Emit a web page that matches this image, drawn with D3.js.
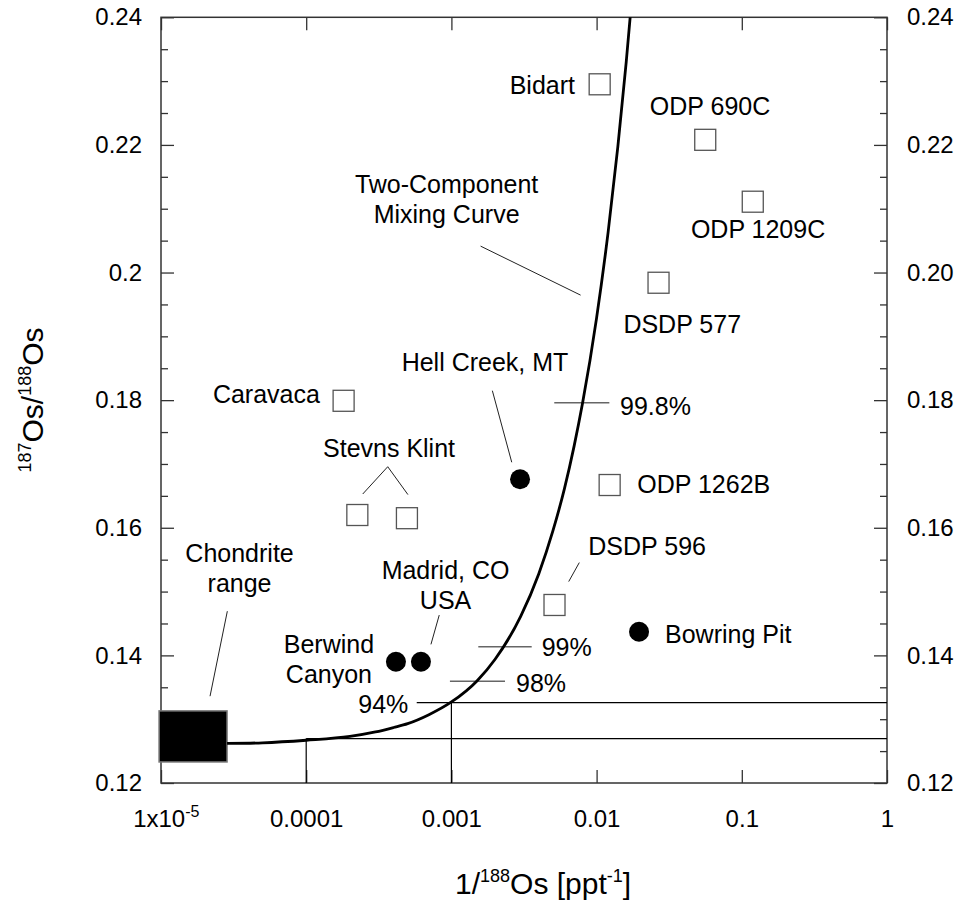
<!DOCTYPE html>
<html>
<head>
<meta charset="utf-8">
<script src="https://cdn.jsdelivr.net/npm/d3@7"></script>
<style>
  body { margin: 0; background: #fff; }
  svg { display: block; font-family: "Liberation Sans", Arial, sans-serif; }
</style>
</head>
<body>
<svg id="chart" width="961" height="903"></svg>
<script>
// ---- data ----
var xDomain = [1e-5, 1];
var yDomain = [0.12, 0.24];
var xTicks = [1e-5, 1e-4, 1e-3, 1e-2, 1e-1, 1];
var xTickLabels = ["1x10", "0.0001", "0.001", "0.01", "0.1", "1"];
var yTicks = [0.12, 0.14, 0.16, 0.18, 0.20, 0.22, 0.24];
var yTickLabelsLeft = ["0.12", "0.14", "0.16", "0.18", "0.2", "0.22", "0.24"];
var yTickLabelsRight = ["0.12", "0.14", "0.16", "0.18", "0.20", "0.22", "0.24"];
var yMinorTicks = [0.125, 0.13, 0.135, 0.145, 0.15, 0.155, 0.165, 0.17, 0.175,
  0.185, 0.19, 0.195, 0.205, 0.21, 0.215, 0.225, 0.23, 0.235];

// open squares (marine / distal sites)
var squareSites = ["Bidart", "ODP 690C", "ODP 1209C", "DSDP 577", "ODP 1262B",
  "Caravaca", "Stevns Klint a", "Stevns Klint b", "DSDP 596"];
var squareX = [0.0105, 0.056, 0.119, 0.0267, 0.0123, 1.81e-4, 2.25e-4, 4.94e-4, 0.00513];
var squareY = [0.2295, 0.2208, 0.2111, 0.1984, 0.1667, 0.1799, 0.1620, 0.1615, 0.1479];

// filled circles (continental sites)
var circleSites = ["Hell Creek, MT", "Bowring Pit", "Berwind Canyon", "Madrid, CO USA"];
var circleX = [0.00297, 0.0196, 4.15e-4, 6.17e-4];
var circleY = [0.1676, 0.1437, 0.1390, 0.1390];

// two-component mixing curve
var curveX = [2.85e-5, 5e-5, 1e-4, 2e-4, 3e-4, 4e-4, 5e-4, 7e-4, 1e-3, 1.5e-3, 2e-3,
  3e-3, 4e-3, 5e-3, 6e-3, 7e-3, 8e-3, 1e-2, 1.2e-2, 1.4e-2, 1.6e-2, 1.75e-2];
var curveY = [0.1262, 0.1263, 0.1267, 0.1273, 0.1280, 0.1287, 0.1293, 0.1307, 0.1327, 0.1360, 0.1394,
  0.1461, 0.1528, 0.1595, 0.1661, 0.1728, 0.1795, 0.1929, 0.2063, 0.2197, 0.2330, 0.2431];

// chondrite range box
var chondriteX = [9.7e-6, 2.85e-5];
var chondriteY = [0.1233, 0.1313];

// mixing percentage marks
var pctLabels = ["99.8%", "99%", "98%", "94%"];
var pctY = [0.1796, 0.14135, 0.13595, 0.13261];
var pctX1 = [0.00511, 0.001532, 0.000977, 5.77e-4];
var pctX2 = [0.01224, 0.003573, 0.00234, 1];

// reference lines (x1, y1, x2, y2)
var refLines = [
  [5.77e-4, 0.13261, 1, 0.13261],
  [1e-4, 0.12697, 1, 0.12697],
  [1e-4, 0.12, 1e-4, 0.12697],
  [1e-3, 0.12, 1e-3, 0.13261]
];

// ---- layout ----
var svg = d3.select("#chart");
var L = 161, R = 887, T = 17.3, B = 783;
var x = d3.scaleLog().domain(xDomain).range([L, R]);
var y = d3.scaleLinear().domain(yDomain).range([B, T]);
var frameColor = "#333";

svg.append("defs").append("clipPath").attr("id", "plotClip")
  .append("rect").attr("x", L).attr("y", T).attr("width", R - L).attr("height", B - T);

function styleAxis(g) {
  g.select(".domain").remove();
  g.selectAll(".tick line").attr("stroke", frameColor).attr("stroke-width", 1.3);
  g.selectAll(".tick text").attr("fill", "#000").attr("font-size", 24)
    .attr("font-family", "'Liberation Sans', Arial, sans-serif");
}

// bottom
var gx = svg.append("g").attr("transform", "translate(0," + B + ")")
  .call(d3.axisBottom(x).tickValues(xTicks).tickSizeInner(-13).tickSizeOuter(0).tickPadding(27)
    .tickFormat(function(d, i) { return xTickLabels[i]; }))
  .call(styleAxis);
gx.selectAll(".tick text").filter(function(d, i) { return i === 0; })
  .append("tspan").attr("font-size", 16).attr("dy", "-0.6em").text("-5");
gx.selectAll(".tick text").filter(function(d, i) { return i === 0; })
  .attr("dx", "0.2em");

// top
svg.append("g").attr("transform", "translate(0," + T + ")")
  .call(d3.axisTop(x).tickValues(xTicks).tickSizeInner(-13).tickSizeOuter(0).tickFormat(""))
  .call(styleAxis);

// left
svg.append("g").attr("transform", "translate(" + L + ",0)")
  .call(d3.axisLeft(y).tickValues(yTicks).tickSizeInner(-13).tickSizeOuter(0).tickPadding(19)
    .tickFormat(function(d, i) { return yTickLabelsLeft[i]; }))
  .call(styleAxis);
svg.append("g").attr("transform", "translate(" + L + ",0)")
  .call(d3.axisLeft(y).tickValues(yMinorTicks).tickSizeInner(-7).tickSizeOuter(0).tickFormat(""))
  .call(styleAxis);

// right
svg.append("g").attr("transform", "translate(" + R + ",0)")
  .call(d3.axisRight(y).tickValues(yTicks).tickSizeInner(-13).tickSizeOuter(0).tickPadding(20)
    .tickFormat(function(d, i) { return yTickLabelsRight[i]; }))
  .call(styleAxis);
svg.append("g").attr("transform", "translate(" + R + ",0)")
  .call(d3.axisRight(y).tickValues(yMinorTicks).tickSizeInner(-7).tickSizeOuter(0).tickFormat(""))
  .call(styleAxis);

// frame
svg.append("rect").attr("x", L).attr("y", T).attr("width", R - L).attr("height", B - T)
  .attr("fill", "none").attr("stroke", frameColor).attr("stroke-width", 1.5);

// axis titles
var xt = svg.append("text").attr("x", 455).attr("y", 894).attr("font-size", 30);
xt.append("tspan").text("1/");
xt.append("tspan").attr("font-size", 18).attr("dy", -12).text("188");
xt.append("tspan").attr("dy", 12).text("Os [ppt");
xt.append("tspan").attr("font-size", 18).attr("dy", -12).text("-1");
xt.append("tspan").attr("dy", 12).text("]");

var yt = svg.append("text").attr("transform", "translate(43,400) rotate(-90)")
  .attr("text-anchor", "middle").attr("font-size", 30);
yt.append("tspan").attr("font-size", 18).attr("dy", -12).text("187");
yt.append("tspan").attr("dy", 12).text("Os/");
yt.append("tspan").attr("font-size", 18).attr("dy", -12).text("188");
yt.append("tspan").attr("dy", 12).text("Os");

// reference lines
var plot = svg.append("g");
plot.selectAll(".ref").data(refLines).enter().append("line")
  .attr("x1", function(d) { return x(d[0]); }).attr("y1", function(d) { return y(d[1]); })
  .attr("x2", function(d) { return x(d[2]); }).attr("y2", function(d) { return y(d[3]); })
  .attr("stroke", "#000").attr("stroke-width", 1.2);

// percentage marks
var pctDx = [10.7, 10, 11, -8.4];
var pctDy = [12.5, 9.3, 10.5, 10];
pctLabels.forEach(function(lbl, i) {
  if (i < 3) {
    plot.append("line")
      .attr("x1", x(pctX1[i])).attr("x2", x(pctX2[i]))
      .attr("y1", y(pctY[i])).attr("y2", y(pctY[i]))
      .attr("stroke", "#666").attr("stroke-width", 1.5);
  }
  var left = i === 3;
  plot.append("text")
    .attr("x", (left ? x(pctX1[i]) : x(pctX2[i])) + pctDx[i])
    .attr("y", y(pctY[i]) + pctDy[i])
    .attr("text-anchor", left ? "end" : "start")
    .attr("font-size", 25).text(lbl);
});

// chondrite box
plot.append("rect")
  .attr("x", x(chondriteX[0])).attr("y", y(chondriteY[1]))
  .attr("width", x(chondriteX[1]) - x(chondriteX[0]))
  .attr("height", y(chondriteY[0]) - y(chondriteY[1]))
  .attr("fill", "#000").attr("stroke", "#777").attr("stroke-width", 1.5);

// mixing curve
var curvePts = curveX.map(function(d, i) { return [d, curveY[i]]; });
plot.append("path").datum(curvePts)
  .attr("clip-path", "url(#plotClip)")
  .attr("d", d3.line().x(function(d) { return x(d[0]); }).y(function(d) { return y(d[1]); })
    .curve(d3.curveMonotoneX))
  .attr("fill", "none").attr("stroke", "#000").attr("stroke-width", 2.8);

// markers
var sq = 21;
squareX.forEach(function(d, i) {
  plot.append("rect")
    .attr("x", x(d) - sq / 2).attr("y", y(squareY[i]) - sq / 2)
    .attr("width", sq).attr("height", sq)
    .attr("fill", "#fff").attr("stroke", "#555").attr("stroke-width", 1.3);
});
circleX.forEach(function(d, i) {
  plot.append("circle").attr("cx", x(d)).attr("cy", y(circleY[i])).attr("r", 10).attr("fill", "#000");
});

// annotations: text offsets relative to the marker they describe
function sqPos(i) { return [x(squareX[i]), y(squareY[i])]; }
function ciPos(i) { return [x(circleX[i]), y(circleY[i])]; }

function label(p, dx, dy, anchor, lines) {
  lines.forEach(function(t, k) {
    plot.append("text").attr("x", p[0] + dx).attr("y", p[1] + dy + k * 30)
      .attr("text-anchor", anchor).attr("font-size", 25).text(t);
  });
}
function leader(p, a, b) {
  plot.append("line")
    .attr("x1", p[0] + a[0]).attr("y1", p[1] + a[1])
    .attr("x2", p[0] + b[0]).attr("y2", p[1] + b[1])
    .attr("stroke", "#222").attr("stroke-width", 1);
}

label(sqPos(0), -24.7, 9.7, "end", ["Bidart"]);
label(sqPos(1), 4.8, -25.3, "middle", ["ODP 690C"]);
label(sqPos(2), 5.3, 36.6, "middle", ["ODP 1209C"]);
label(sqPos(3), 23.7, 50, "middle", ["DSDP 577"]);
label(sqPos(4), 27.6, 8.1, "start", ["ODP 1262B"]);
label(sqPos(5), -23.7, 2.6, "end", ["Caravaca"]);
label(sqPos(6), 31.7, -58.3, "middle", ["Stevns Klint"]);
leader(sqPos(6), [30.4, -48.3], [5.4, -21]);
leader(sqPos(6), [30.4, -48.3], [sqPos(7)[0] - sqPos(6)[0] + 1, sqPos(7)[1] - sqPos(6)[1] - 23.6]);
label(sqPos(8), 33.8, -49.7, "start", ["DSDP 596"]);
leader(sqPos(8), [24.8, -42.4], [14.2, -23.4]);

label(ciPos(0), 48.3, -108.6, "end", ["Hell Creek, MT"]);
leader(ciPos(0), [-27.7, -88.6], [-8.3, -17]);
label(ciPos(1), 26, 11.3, "start", ["Bowring Pit"]);
label(ciPos(2), -67, -8.7, "middle", ["Berwind", "Canyon"]);
label(ciPos(3), 24.6, -82.7, "middle", ["Madrid, CO", "USA"]);
leader(ciPos(3), [18.3, -46.7], [10, -17.4]);

// chondrite and curve labels
var chTop = [x(chondriteX[1]), y(chondriteY[1])];
label(chTop, 12.5, -148.4, "middle", ["Chondrite", "range"]);
leader(chTop, [0.3, -99.7], [-17, -14.7]);

var mixP = [x(curveX[17]), y(curveY[17])];
label(mixP, -150, -124.5, "middle", ["Two-Component", "Mixing Curve"]);
leader(mixP, [-116, -71.7], [-16, -22.7]);
</script>
</body>
</html>
